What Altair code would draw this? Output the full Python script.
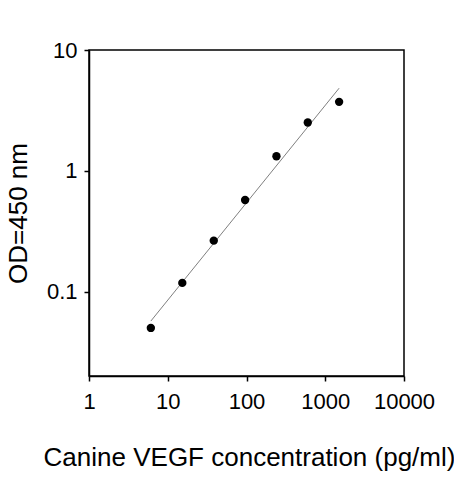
import altair as alt
import pandas as pd

# measured standard curve
conc = [6.1, 15.3, 38.4, 96, 240, 600, 1500]
od = [0.050, 0.118, 0.264, 0.573, 1.32, 2.51, 3.72]

# fitted line endpoints
fit_conc = [6.1, 1500]
fit_od = [0.057, 4.83]

x_ticks = [1, 10, 100, 1000, 10000]
y_ticks = [0.1, 1, 10]

pts = pd.DataFrame({"conc": conc, "od": od})
fit = pd.DataFrame({"conc": fit_conc, "od": fit_od})

FONT = "Liberation Sans"

xscale = alt.Scale(type="log", domain=[1, 10000], nice=False)
yscale = alt.Scale(type="log", domain=[0.02, 10], nice=False)

xaxis = alt.Axis(
    values=x_ticks, format="~g", grid=False,
    title="Canine VEGF concentration (pg/ml)",
    titleFontSize=26, titleFontWeight="normal", titleFont=FONT, titleColor="black",
    titleX=160, titleY=89, titleBaseline="alphabetic", titleAlign="center",
    labelFontSize=22, labelFont=FONT, labelPadding=10, labelColor="black",
    tickSize=5, tickColor="black", tickWidth=1.5,
    domainColor="black", domainWidth=1.5, labelFlush=False,
)
yaxis = alt.Axis(
    values=y_ticks, format="~g", grid=False,
    title="OD=450 nm",
    titleFontSize=26, titleFontWeight="normal", titleFont=FONT, titleColor="black",
    titleX=-71, titleY=163, titleAngle=-90, titleBaseline="middle", titleAlign="center",
    labelFontSize=22, labelFont=FONT, labelPadding=7, labelColor="black",
    tickSize=5, tickColor="black", tickWidth=1.5,
    domainColor="black", domainWidth=1.5, labelFlush=False,
)

line = alt.Chart(fit).mark_line(color="#7f7f7f", strokeWidth=1).encode(
    x=alt.X("conc:Q", scale=xscale, axis=xaxis),
    y=alt.Y("od:Q", scale=yscale, axis=yaxis),
)
points = alt.Chart(pts).mark_circle(color="black", opacity=1, size=70).encode(
    x=alt.X("conc:Q", scale=xscale),
    y=alt.Y("od:Q", scale=yscale),
)

chart = (line + points).properties(
    width=315, height=326,
    background="white",
    autosize=alt.AutoSizeParams(type="none"),
    padding={"left": 81, "top": 42, "right": 50, "bottom": 104},
).configure_view(stroke="black", strokeWidth=1.5)

chart.save("out.html", embed_options={"renderer": "svg", "actions": False})
